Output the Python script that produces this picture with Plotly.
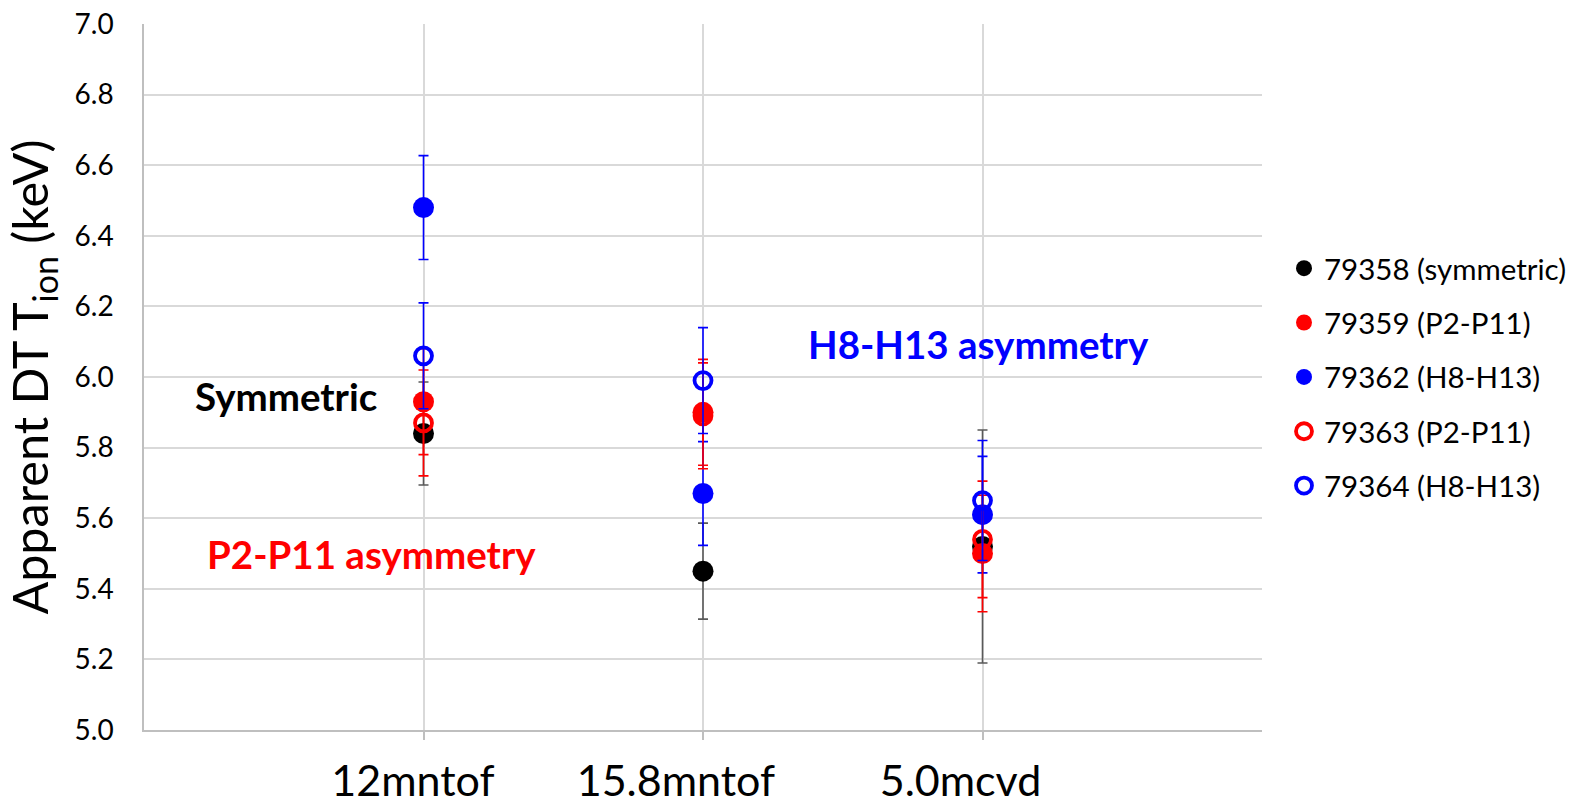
import plotly.graph_objects as go

categories = ["12mntof", "15.8mntof", "5.0mcvd"]
label_pad = [2, 5, 4]  # trailing spaces in the category labels

series_names = ["79358 (symmetric)", "79359 (P2-P11)", "79362 (H8-H13)", "79363 (P2-P11)", "79364 (H8-H13)"]
s79358 = [5.84, 5.45, 5.52]
e79358 = [0.146, 0.136, 0.33]
s79359 = [5.93, 5.90, 5.50]
e79359 = [0.15, 0.15, 0.165]
s79362 = [6.48, 5.67, 5.61]
e79362 = [0.147, 0.147, 0.165]
s79363 = [5.87, 5.89, 5.54]
e79363 = [0.15, 0.15, 0.165]
s79364 = [6.06, 5.99, 5.65]
e79364 = [0.15, 0.15, 0.17]

y_ticks = [5.0, 5.2, 5.4, 5.6, 5.8, 6.0, 6.2, 6.4, 6.6, 6.8, 7.0]

FONT = "Lato"
xpos = list(range(1, len(categories) + 1))

styles = [
    dict(color="#000000", err="#595959", open=False),
    dict(color="#ff0000", err="#ff0000", open=False),
    dict(color="#0000ff", err="#0000ff", open=False),
    dict(color="#ff0000", err="#ff0000", open=True),
    dict(color="#0000ff", err="#0000ff", open=True),
]
values = [s79358, s79359, s79362, s79363, s79364]
errors = [e79358, e79359, e79362, e79363, e79364]

fig = go.Figure()
for i, (name, vals, errs, st) in enumerate(zip(series_names, values, errors, styles)):
    if st["open"]:
        marker = dict(symbol="circle-open", size=17, color=st["color"], line=dict(width=3.8, color=st["color"]))
    else:
        marker = dict(symbol="circle", size=21, color=st["color"], line=dict(width=0))
    fig.add_trace(go.Scatter(
        x=xpos, y=vals, mode="markers", name=name,
        legendgroup=f"g{i}",
        marker=marker,
        error_y=dict(type="data", array=errs, visible=True, color=st["err"], thickness=1.6, width=5),
    ))

ann_font = dict(family=FONT, size=38.5)
fig.add_annotation(x=0.507, y=5.946, xref="x", yref="y", text="<b>Symmetric</b>", showarrow=False,
                   font=dict(**ann_font, color="#000000"))
fig.add_annotation(x=0.814, y=5.499, xref="x", yref="y", text="<b>P2-P11 asymmetry</b>", showarrow=False,
                   font=dict(**ann_font, color="#ff0000"))
fig.add_annotation(x=2.986, y=6.093, xref="x", yref="y", text="<b>H8-H13 asymmetry</b>", showarrow=False,
                   font=dict(**ann_font, color="#0000ff"))

ticktext = [c + "\u00a0" * p for c, p in zip(categories, label_pad)]

fig.update_layout(
    width=1579, height=809,
    margin=dict(l=144, r=317, t=24, b=79, autoexpand=False),
    paper_bgcolor="white", plot_bgcolor="white",
    font=dict(family=FONT, color="#000000"),
    showlegend=True,
    legend=dict(x=1.0 + (1284 - 1262) / (1262 - 144), xanchor="left", y=0.5, yanchor="middle",
                xref="paper", font=dict(family=FONT, size=29.5, color="#000000"),
                tracegroupgap=13, itemsizing="trace", bgcolor="rgba(0,0,0,0)"),
    xaxis=dict(
        range=[0, 4], tickmode="array", tickvals=xpos, ticktext=ticktext,
        showgrid=True, gridcolor="#d9d9d9", gridwidth=1.5,
        showline=True, linecolor="#bfbfbf", linewidth=1.5,
        ticks="outside", ticklen=8, tickcolor="#bfbfbf", tickwidth=1.5,
        tickfont=dict(family=FONT, size=43, color="#000000"),
        ticklabelstandoff=5, automargin=False,
        minor=dict(tickmode="array", tickvals=[0, 4], showgrid=True, gridcolor="#d9d9d9", gridwidth=1.5, ticks=""),
        zeroline=False, fixedrange=True,
    ),
    yaxis=dict(
        range=[5.0, 7.0], tickmode="array", tickvals=y_ticks,
        ticktext=[f"{v:.1f}" for v in y_ticks],
        showgrid=True, gridcolor="#d9d9d9", gridwidth=1.5,
        showline=True, linecolor="#bfbfbf", linewidth=1.5,
        ticks="", tickfont=dict(family=FONT, size=28, color="#000000"),
        ticklabelstandoff=23, automargin=False,
        title=dict(text="Apparent DT T<sub>ion</sub> (keV)", font=dict(family=FONT, size=48.5, color="#000000"), standoff=12),
        zeroline=False, fixedrange=True,
    ),
)

fig.write_html("out.html")
